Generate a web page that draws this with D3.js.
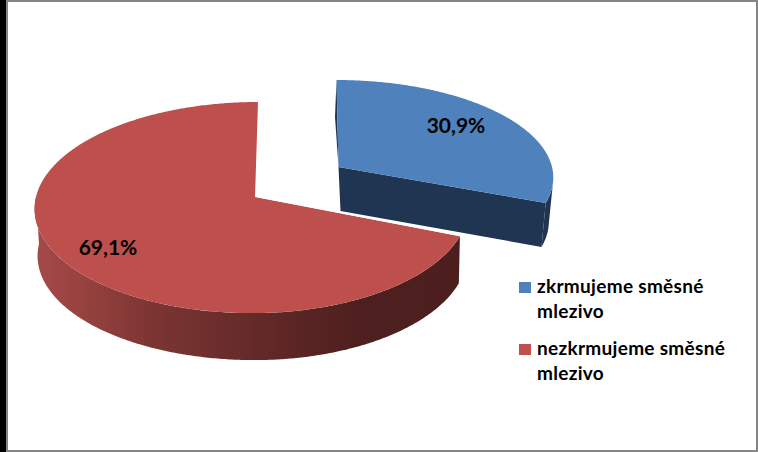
<!DOCTYPE html>
<html><head><meta charset="utf-8">
<script src="https://cdn.jsdelivr.net/npm/d3@7/dist/d3.min.js"></script>
<style>html,body{margin:0;padding:0;background:#fff}svg{display:block}
text{font-family:Lato,"Open Sans","Noto Sans",sans-serif;font-weight:700;fill:#000}</style>
</head><body><div id="c"></div>
<script>
const categories = ["zkrmujeme směsné mlezivo", "nezkrmujeme směsné mlezivo"];
const values = [30.9, 69.1];
const valueLabels = ["30,9%", "69,1%"];
const legendLines = [["zkrmujeme směsné", "mlezivo"], ["nezkrmujeme směsné", "mlezivo"]];
const topColors = ["#4f81bd", "#bd504d"];
const swatchColors = ["#4f81bd", "#c0504d"];

const W = 758, H = 452;
const svg = d3.select("#c").append("svg").attr("width", W).attr("height", H);
const defs = svg.append("defs");
const wallGrad = defs.append("linearGradient").attr("id", "redWall")
  .attr("gradientUnits", "userSpaceOnUse").attr("x1", 38).attr("x2", 460).attr("y1", 0).attr("y2", 0);
[[0, "#a5494a"], [0.1, "#97433f"], [0.27, "#7c3533"], [0.55, "#602827"], [0.76, "#4e1f1e"], [1, "#4c1f1e"]]
  .forEach(([o, c]) => wallGrad.append("stop").attr("offset", o).attr("stop-color", c));

// frame
svg.append("rect").attr("width", W).attr("height", H).attr("fill", "#858585");
svg.append("rect").attr("x", 0).attr("y", 0).attr("width", 6).attr("height", H).attr("fill", "#000");
svg.append("rect").attr("x", 8).attr("y", 2).attr("width", W - 10).attr("height", H - 4).attr("fill", "#fff");

// slices: start at 12 o'clock, clockwise
const arcs = d3.pie().sort(null).value(d => d)(values);
const K = 0.1;
const geometry = [
  { ax: 338.5, ay: 167, R: 213.5, ry: 95.7, depth: 44, shear: -2, lowF: 0.97 },
  { ax: 255, ay: 197, Rl: 219, R: 213, ry: 104.5, depth: 47, shear: 3, lowF: 0.985 }
];
function project(g, theta, r, low) {
  const u = Math.sin(theta), v = -Math.cos(theta);
  const s = 1 / (1 - K * v * r);
  const R = (u < 0 && g.Rl) ? g.Rl : g.R;
  let x = R * u * r * s - g.shear * v * r;
  if (low) x = u < 0 ? x + 3 : x * g.lowF + 2;
  return [g.ax + x, g.ay + g.ry * v * r * s + (low ? g.depth : 0)];
}
function sample(a, b) {
  const n = Math.max(2, Math.ceil(Math.abs(b - a) / 0.01));
  return d3.range(n + 1).map(i => a + (b - a) * i / n);
}
const line = d3.line();
const TAU = 2 * Math.PI;

// blue slice
(function () {
  const g = geometry[0], a = arcs[0];
  const outer = sample(Math.PI * 100 / 180, a.endAngle);
  const wall = outer.map(t => project(g, t, 1, false))
    .concat(outer.slice().reverse().map(t => project(g, t, 1, true)));
  svg.append("path").attr("d", line(wall) + "Z").attr("fill", "#1f3552");
  const cut = [project(g, a.endAngle, 1, false), project(g, a.endAngle, 1, true), project(g, 0, 0, true), project(g, 0, 0, false)];
  svg.append("path").attr("d", line(cut) + "Z").attr("fill", "#1f3552");
  const back = [project(g, 0, 1, false), [g.ax - 3.5, g.ay - 50], project(g, 0, 0, false)];
  svg.append("path").attr("d", line(back) + "Z").attr("fill", "#1f3552");
  const top = sample(a.startAngle, a.endAngle).map(t => project(g, t, 1, false));
  top.push(project(g, 0, 0, false));
  svg.append("path").attr("d", line(top) + "Z").attr("fill", topColors[0]);
})();

// red slice
(function () {
  const g = geometry[1], a = arcs[1];
  const outer = sample(a.startAngle, TAU * 0.75);
  const wall = outer.map(t => project(g, t, 1, false))
    .concat(outer.slice().reverse().map(t => project(g, t, 1, true)));
  svg.append("path").attr("d", line(wall) + "Z").attr("fill", "url(#redWall)");
  const top = sample(a.startAngle, a.endAngle).map(t => project(g, t, 1, false));
  top.push(project(g, 0, 0, false));
  svg.append("path").attr("d", line(top) + "Z").attr("fill", topColors[1]);
  const edge = [project(g, 0, 0, false), project(g, a.startAngle, 1, false)];
  svg.append("path").attr("d", line(edge.map(p => [p[0], p[1] - 0.6]))).attr("stroke", "#fff").attr("stroke-width", 1).attr("fill", "none");
})();

// value labels
const labelPos = [[456, 126], [108, 248]];
svg.selectAll("text.v").data(valueLabels).join("text").attr("class", "v")
  .attr("x", (d, i) => labelPos[i][0]).attr("y", (d, i) => labelPos[i][1]).attr("dy", "0.35em")
  .attr("text-anchor", "middle").attr("font-size", 21).text(d => d);

// legend
const legendY = [[293, 318], [355, 380]];
const swatchY = [282, 344];
categories.forEach((c, i) => {
  svg.append("rect").attr("x", 519).attr("y", swatchY[i]).attr("width", 12).attr("height", 11).attr("fill", swatchColors[i]);
  legendLines[i].forEach((t, j) => {
    svg.append("text").attr("x", 537).attr("y", legendY[i][j]).attr("font-size", 19).attr("letter-spacing", 0.3).text(t);
  });
});
</script></body></html>
